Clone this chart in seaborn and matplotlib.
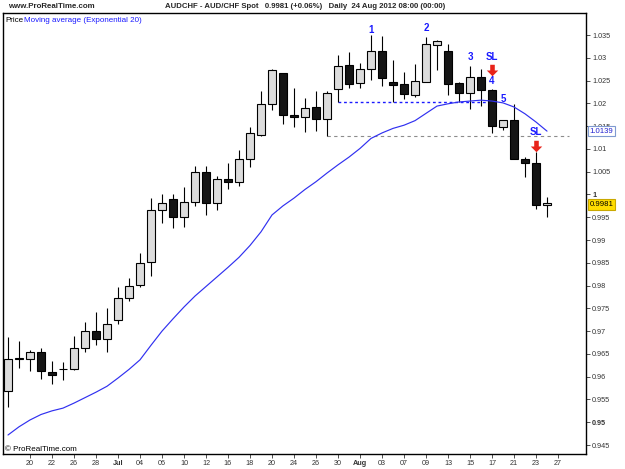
import numpy as np
import pandas as pd
import matplotlib
matplotlib.use("Agg")
import matplotlib.pyplot as plt
from matplotlib.path import Path
import seaborn as sns

# daily AUD/CHF candles, 18 Jun - 24 Aug 2012
dates = pd.bdate_range("2012-06-18", "2012-08-24")
opens = [0.9569, 0.9639, 0.9639, 0.9654, 0.9610, 0.9616, 0.9616, 0.9662, 0.9700, 0.9682,
         0.9724, 0.9773, 0.9801, 0.9851, 0.9966, 0.9990, 0.9950, 0.9983, 1.0050, 0.9981,
         1.0033, 1.0027, 1.0078, 1.0131, 1.0199, 1.0266, 1.0174, 1.0171, 1.0191, 1.0165,
         1.0231, 1.0284, 1.0244, 1.0275, 1.0315, 1.0246, 1.0242, 1.0218, 1.0247, 1.0328,
         1.0315, 1.0244, 1.0222, 1.0258, 1.0229, 1.0147, 1.0163, 1.0077, 1.0070, 0.9976]
highs = [0.9687, 0.9678, 0.9659, 0.9662, 0.9634, 0.9632, 0.9689, 0.9719, 0.9741, 0.9750,
         0.9796, 0.9817, 0.9872, 0.9992, 1.0000, 1.0000, 1.0017, 1.0062, 1.0062, 1.0040,
         1.0070, 1.0098, 1.0149, 1.0228, 1.0275, 1.0267, 1.0233, 1.0211, 1.0228, 1.0226,
         1.0306, 1.0313, 1.0288, 1.0350, 1.0348, 1.0295, 1.0269, 1.0286, 1.0346, 1.0339,
         1.0330, 1.0247, 1.0283, 1.0275, 1.0231, 1.0163, 1.0199, 1.0083, 1.0094, 0.9995]
lows = [0.9534, 0.9619, 0.9613, 0.9595, 0.9584, 0.9593, 0.9615, 0.9654, 0.9670, 0.9654,
        0.9716, 0.9767, 0.9796, 0.9821, 0.9937, 0.9927, 0.9928, 0.9975, 0.9954, 0.9966,
        1.0013, 1.0019, 1.0060, 1.0129, 1.0185, 1.0155, 1.0149, 1.0136, 1.0140, 1.0129,
        1.0204, 1.0234, 1.0234, 1.0251, 1.0237, 1.0204, 1.0209, 1.0215, 1.0246, 1.0273,
        1.0218, 1.0204, 1.0187, 1.0194, 1.0134, 1.0141, 1.0077, 1.0039, 0.9967, 0.9951]
closes = [0.9639, 0.9640, 0.9654, 0.9612, 0.9603, 0.9617, 0.9662, 0.9701, 0.9682, 0.9716,
          0.9772, 0.9799, 0.9849, 0.9965, 0.9981, 0.9950, 0.9983, 1.0050, 0.9981, 1.0035,
          1.0027, 1.0078, 1.0134, 1.0199, 1.0273, 1.0174, 1.0171, 1.0190, 1.0166, 1.0222,
          1.0283, 1.0242, 1.0275, 1.0315, 1.0256, 1.0240, 1.0220, 1.0249, 1.0330, 1.0337,
          1.0242, 1.0222, 1.0258, 1.0229, 1.0150, 1.0163, 1.0077, 1.0068, 0.9977, 0.9981]
ema20 = [0.9472, 0.9490, 0.9505, 0.9517, 0.9525, 0.9531, 0.9542, 0.9554, 0.9566, 0.9579,
         0.9597, 0.9616, 0.9637, 0.9669, 0.9700, 0.9727, 0.9753, 0.9777, 0.9798, 0.9819,
         0.9840, 0.9862, 0.9888, 0.9918, 0.9955, 0.9975, 0.9992, 1.0011, 1.0028, 1.0047,
         1.0065, 1.0082, 1.0101, 1.0123, 1.0135, 1.0145, 1.0152, 1.0162, 1.0178, 1.0194,
         1.0199, 1.0203, 1.0205, 1.0207, 1.0205, 1.0201, 1.0192, 1.0177, 1.0159, 1.0139]

tick_labels = ["20", "22", "26", "28", "Jul", "04", "06", "10", "12", "16", "18", "20", "24",
               "26", "30", "Aug", "03", "07", "09", "13", "15", "17", "21", "23", "27"]

df = pd.DataFrame({"date": dates, "open": opens, "high": highs, "low": lows,
                   "close": closes, "ema": ema20})
df["i"] = np.arange(len(df))
up = df["close"] >= df["open"]

sns.set_style("white")
plt.rcParams["font.family"] = ["Liberation Sans", "DejaVu Sans"]

fig = plt.figure(figsize=(6.25, 4.69), dpi=100)
ax = fig.add_axes([3 / 625, 15 / 469, 583 / 625, 441 / 469])

# wicks + bodies
ax.vlines(df["i"], df["low"], df["high"], color="black", lw=0.8, zorder=2)
ax.bar(df["i"][up], (df["close"] - df["open"])[up], bottom=df["open"][up], width=0.66,
       color="#dcdcdc", edgecolor="black", linewidth=0.8, zorder=3)
ax.bar(df["i"][~up], (df["close"] - df["open"])[~up], bottom=df["open"][~up], width=0.66,
       color="#151515", edgecolor="black", linewidth=0.8, zorder=3)

sns.lineplot(data=df, x="i", y="ema", ax=ax, color="#3030f0", lw=0.85, zorder=4)

# support levels
ax.hlines(lows[30], 30, 44, color="#1a1aff", lw=1, linestyles=(0, (2, 2)), zorder=1)
ax.hlines(lows[29], 29, 51, color="#8c8c8c", lw=0.8, linestyles=(0, (3, 3)), zorder=1)

# wave count / stop marks
blue = "#1a1aff"
notes = [(33, "1", 0.0011), (38, "2", 0.0019), (42, "3", 0.0019), (44, "4", 0.0019),
         (44, "SL", 0.0071), (45, "5", 0.0047), (48, "SL", 0.0044)]
for i, t, off in notes:
    ax.text(i, highs[i] + off, t, color=blue, fontsize=7, fontweight="bold",
            ha="center", va="center", zorder=6)

down_arrow = Path([(-0.2, 0.5), (0.2, 0.5), (0.2, 0.0), (0.5, 0.0), (0.0, -0.5),
                   (-0.5, 0.0), (-0.2, 0.0), (-0.2, 0.5)],
                  [Path.MOVETO] + [Path.LINETO] * 6 + [Path.CLOSEPOLY])
for i, off in [(44, 0.0042), (48, 0.0012)]:
    ax.scatter([i], [highs[i] + off], marker=down_arrow, s=68, color="#e8231a",
               linewidths=0, zorder=6)

ax.set_xlim(-0.4545, 52.545)
ax.set_ylim(0.94303, 1.03983)
ax.set_xlabel("")
ax.set_ylabel("")

ax.set_xticks(np.arange(2, 51, 2))
ax.set_xticklabels(tick_labels)
for lab in ax.get_xticklabels():
    if lab.get_text() in ("Jul", "Aug"):
        lab.set_fontweight("bold")

yt = np.round(np.arange(0.945, 1.0351, 0.005), 3)
ax.yaxis.tick_right()
ax.set_yticks(yt)
ax.set_yticklabels([f"{v:g}" for v in yt])
for lab in ax.get_yticklabels():
    if lab.get_text() in ("0.95", "1"):
        lab.set_fontweight("bold")

ax.tick_params(axis="both", direction="out", length=3, width=0.6, labelsize=5.2,
               colors="#333333", pad=1.5)
ax.tick_params(axis="x", bottom=True, top=False)
ax.tick_params(axis="y", right=True, left=False)
for s in ax.spines.values():
    s.set_color("black")
    s.set_linewidth(1)

# last-value boxes on the price scale
ax.annotate(f"{ema20[-1]:.4f}", xy=(1, ema20[-1]), xycoords=("axes fraction", "data"),
            xytext=(2.5, 0), textcoords="offset points", ha="left", va="center",
            fontsize=5.6, color="#2020d0", annotation_clip=False, zorder=7,
            bbox=dict(boxstyle="square,pad=0.2", fc="white", ec="#7f9ad0", lw=0.8))
ax.annotate(f"{closes[-1]:.4f}", xy=(1, closes[-1]), xycoords=("axes fraction", "data"),
            xytext=(2.5, -1), textcoords="offset points", ha="left", va="center",
            fontsize=5.6, color="black", annotation_clip=False, zorder=7,
            bbox=dict(boxstyle="square,pad=0.2", fc="#ffdc00", ec="#c9a800", lw=0.8))

# header and captions
fig.text(8 / 625, 1 - 7 / 469, "www.ProRealTime.com", fontsize=5.7, fontweight="bold",
         va="center", ha="left")
fig.text(305 / 625, 1 - 7 / 469,
         "AUDCHF - AUD/CHF Spot   0.9981 (+0.06%)   Daily  24 Aug 2012 08:00 (00:00)",
         fontsize=5.6, fontweight="bold", va="center", ha="center")
fig.text(5 / 625, 1 - 20 / 469, "Price", fontsize=5.8, color="black", va="center")
fig.text(24 / 625, 1 - 20 / 469, "Moving average (Exponential 20)", fontsize=5.8,
         color=blue, va="center")
fig.text(5 / 625, 1 - 449 / 469, "\u00a9 ProRealTime.com", fontsize=5.8, color="black",
         va="center")

fig.savefig("out.png", dpi=100, facecolor="white")
